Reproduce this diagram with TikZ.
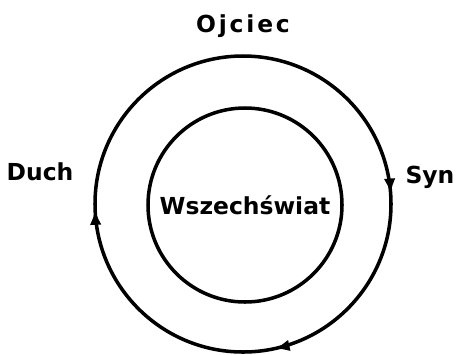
\documentclass[tikz,border=0pt]{standalone}
\usepackage{fontspec}
\setmainfont{DejaVu Sans}
\usetikzlibrary{arrows.meta,decorations.markings}
\tikzset{
  lbl/.style={font=\bfseries\fontsize{20}{22}\selectfont, text=black, inner sep=0pt},
  wide/.style={font=\bfseries\fontsize{20}{22}\selectfont\addfontfeature{LetterSpace=12}},
  ring/.style={line width=3pt, draw=black,
               decoration={markings,
                 mark=at position 0.011 with {\arrowreversed{Latex[length=13pt,width=10pt]}},
                 mark=at position 0.506 with {\arrowreversed{Latex[length=13pt,width=10pt]}},
                 mark=at position 0.784 with {\arrowreversed{Latex[length=13pt,width=10pt]}}},
               postaction={decorate}},
  world/.style={circle, line width=3pt, draw=black, minimum size=194*0.03cm, inner sep=0pt},
}

\begin{document}
\begin{tikzpicture}[x=0.03cm, y=0.03cm]
  \useasboundingbox (0,0) rectangle (456,-354);

  \coordinate (c) at (243,-204);
  \draw[ring] (c) circle (148);

  \node[world, lbl] (wsz) at (245,-205) {Wszechświat};

  \node[lbl, wide] (ojciec) at (243,-26)  {Ojciec};
  \node[lbl] (duch)   at (40,-172)  {Duch};
  \node[lbl] (syn)    at (430,-177) {Syn};
\end{tikzpicture}
\end{document}
